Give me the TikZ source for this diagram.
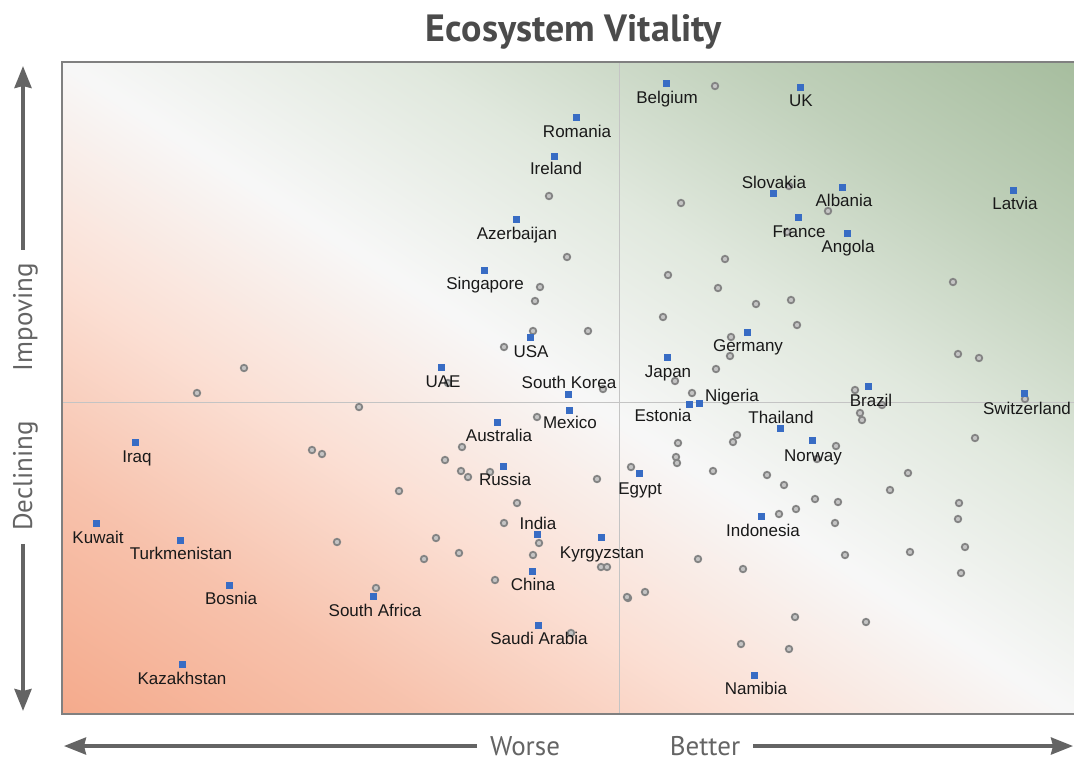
\documentclass[tikz,border=0pt]{standalone}
\usepackage{fontspec}
\setmainfont{Liberation Sans}
\newfontfamily\axisfont{PT Sans}
\usetikzlibrary{arrows.meta}
\definecolor{frame_gray}{RGB}{128,128,128}
\definecolor{mid_gray}{RGB}{196,196,196}
\definecolor{dot_gray}{RGB}{132,132,132}
\definecolor{dot_fill}{RGB}{196,196,196}
\definecolor{point_blue}{RGB}{56,108,196}
\definecolor{salmon}{RGB}{243,160,126}
\definecolor{sage}{RGB}{146,174,136}
\definecolor{axis_gray}{RGB}{100,100,100}
\definecolor{title_gray}{RGB}{75,75,75}

\pgfdeclarehorizontalshading{ecoshade}{100bp}{color(0bp)=(salmon); color(15bp)=(salmon!88!white); color(27bp)=(salmon!64!white); color(38bp)=(salmon!34!white); color(50bp)=(white!97!black); color(62bp)=(sage!28!white); color(74bp)=(sage!58!white); color(86bp)=(sage!82!white); color(100bp)=(sage)}

\tikzset{
	country/.style={rectangle,fill=point_blue,minimum size=7pt,inner sep=0pt},
	otherdot/.style={circle,draw=dot_gray,fill=dot_fill,line width=1.8pt,minimum size=6.5pt,inner sep=0pt},
	cname/.style={font=\fontsize{17}{20}\selectfont,text=black!90,inner sep=0pt,text height=12pt,text depth=0pt},
	axislabel/.style={font=\axisfont\fontsize{27}{30}\selectfont,text=axis_gray,inner sep=0pt,text height=18pt,text depth=0pt,outer sep=13pt},
	axisarrow/.style={axis_gray,line width=3.5pt,-{Stealth[length=22pt,width=17pt,inset=2pt]}}
}

\begin{document}
\begin{tikzpicture}[x=1pt,y=-1pt]
	\useasboundingbox (0,0) rectangle (1074,761);

	% background of the plot
	\begin{scope}[transform canvas={shift={(62,62)},xscale=10.12,yscale=6.52}]
		\shade[shading=ecoshade,shading angle=45] (0,0) rectangle (100,100);
	\end{scope}
	\draw[mid_gray,line width=1pt] (619,62) -- (619,714);
	\draw[mid_gray,line width=1pt] (62,402) -- (1074,402);
	\draw[frame_gray,line width=2.5pt] (1074,62) -- (62,62) -- (62,714) -- (1074,714);

	% title
	\node[font=\axisfont\bfseries\fontsize{38}{42}\selectfont,text=title_gray,inner sep=0pt,text height=27pt,text depth=0pt] (title) at (574,28) {Ecosystem Vitality};

	% axes
	\node[axislabel,rotate=90] (impoving) at (23,317) {Impoving};
	\node[axislabel,rotate=90] (declining) at (23,476) {Declining};
	\node[axislabel] (worse) at (525,746) {Worse};
	\node[axislabel] (better) at (705,746) {Better};
	\coordinate (uptip) at (23,66);
	\coordinate (downtip) at (23,711);
	\coordinate (lefttip) at (64,746);
	\coordinate (righttip) at (1073,746);
	\draw[axisarrow] (impoving) -- (uptip);
	\draw[axisarrow] (declining) -- (downtip);
	\draw[axisarrow] (worse) -- (lefttip);
	\draw[axisarrow] (better) -- (righttip);

	% other countries
	\foreach \x/\y [count=\i] in {715/86,549/196,567/257,540/287,535/301,533/331,588/331,504/347,448/383,603/389,537/417,
		244/368,197/393,359/407,
		789/186,681/203,828/211,787/232,725/259,668/275,718/288,756/304,791/300,663/317,797/325,731/337,730/356,716/369,675/381,692/393,855/390,
		953/282,958/354,979/358,1025/399,882/405,
		860/413,862/420,836/446,817/459,737/435,733/442,678/443,676/457,677/463,631/467,713/471,767/475,784/485,815/499,838/502,796/509,779/514,835/523,845/555,698/559,743/569,645/592,628/598,795/617,866/622,741/644,789/649,
		975/438,908/473,890/490,959/503,958/519,965/547,910/552,961/573,
		462/447,445/460,461/471,468/477,490/472,399/491,597/479,517/503,504/523,436/538,424/559,459/553,539/543,533/555,601/567,607/567,495/580,627/597,571/633,
		312/450,322/454,337/542,376/588}
		\node[otherdot] (dot\i) at (\x,\y) {};

	% named countries
	\foreach \n/\x/\y/\lx/\ly/\t in {belgium/666/83/667/97/Belgium,
		uk/800/87/801/100/UK,
		romania/576/117/577/131/Romania,
		ireland/554/156/556/168/Ireland,
		slovakia/773/193/774/182/Slovakia,
		albania/842/187/844/200/Albania,
		latvia/1013/190/1015/203/Latvia,
		france/798/217/799/231/France,
		angola/847/233/848/246/Angola,
		azerbaijan/516/219/517/233/Azerbaijan,
		singapore/484/270/485/283/Singapore,
		germany/747/332/748/345/Germany,
		usa/530/337/531/351/USA,
		japan/667/357/668/371/Japan,
		uae/441/367/443/381/UAE,
		southkorea/568/394/569/382/South Korea,
		brazil/868/386/871/400/Brazil,
		switzerland/1024/393/1027/408/Switzerland,
		nigeria/699/403/732/395/Nigeria,
		estonia/689/404/663/415/Estonia,
		mexico/569/410/570/422/Mexico,
		australia/497/422/499/435/Australia,
		thailand/780/428/781/417/Thailand,
		iraq/135/442/137/456/Iraq,
		norway/812/440/813/455/Norway,
		russia/503/466/505/479/Russia,
		egypt/639/473/640/488/Egypt,
		indonesia/761/516/763/530/Indonesia,
		kuwait/96/523/98/537/Kuwait,
		india/537/534/538/523/India,
		kyrgyzstan/601/537/602/552/Kyrgyzstan,
		turkmenistan/180/540/181/553/Turkmenistan,
		china/532/571/533/584/China,
		bosnia/229/585/231/598/Bosnia,
		southafrica/373/596/375/610/South Africa,
		saudiarabia/538/625/539/638/Saudi Arabia,
		kazakhstan/182/664/182/678/Kazakhstan,
		namibia/754/675/756/688/Namibia}
	{
		\node[country] (\n) at (\x,\y) {};
		\node[cname] (\n-label) at (\lx,\ly) {\t};
	}
\end{tikzpicture}
\end{document}
